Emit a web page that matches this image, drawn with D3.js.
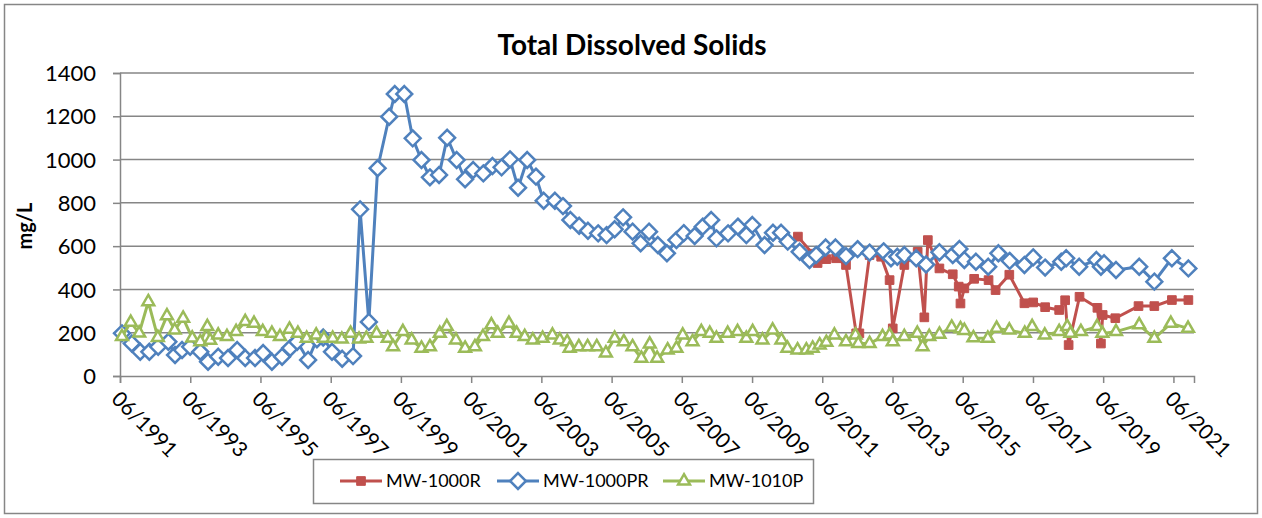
<!DOCTYPE html>
<html>
<head>
<meta charset="utf-8">
<script src="https://cdn.jsdelivr.net/npm/d3@7"></script>
<style>
  body { margin: 0; background: #fff; }
  svg text { font-family: Lato, "Liberation Sans", sans-serif; fill: #000; }
</style>
</head>
<body>
<svg id="chart" width="1262" height="518"></svg>
<script>
// sample times are decimal years, values in mg/L
const mw1000rYears = [2010.72, 2011.14, 2011.28, 2011.53, 2011.81, 2012.09, 2012.38, 2012.47, 2012.76, 2013.09,
  2013.33, 2013.42, 2013.75, 2014.13, 2014.32, 2014.42, 2014.75, 2015.13, 2015.30, 2015.35,
  2015.46, 2015.74, 2016.15, 2016.35, 2016.74, 2017.17, 2017.42, 2017.76, 2018.16, 2018.33,
  2018.43, 2018.74, 2019.25, 2019.35, 2019.40, 2019.76, 2020.42, 2020.87, 2021.37, 2021.84];
const mw1000rTDS = [644, 565, 522, 540, 544, 513, 197, 197, 559, 551,
  443, 220, 513, 574, 271, 628, 497, 470, 413, 335,
  405, 449, 443, 397, 468, 336, 340, 318, 305, 350,
  143, 366, 315, 150, 282, 267, 323, 323, 351, 351];

const mw1000prYears = [1991.47, 1991.75, 1991.99, 1992.25, 1992.50, 1992.79, 1992.98, 1993.18, 1993.41, 1993.70,
  1993.92, 1994.21, 1994.49, 1994.75, 1994.98, 1995.26, 1995.49, 1995.74, 1996.03, 1996.26,
  1996.46, 1996.77, 1997.02, 1997.20, 1997.45, 1997.74, 1998.05, 1998.25, 1998.50, 1998.75,
  1999.08, 1999.24, 1999.51, 1999.75, 2000.00, 2000.24, 2000.50, 2000.73, 2001.00, 2001.24,
  2001.47, 2001.76, 2002.02, 2002.28, 2002.52, 2002.75, 2003.01, 2003.26, 2003.48, 2003.80,
  2004.03, 2004.24, 2004.49, 2004.74, 2005.03, 2005.27, 2005.50, 2005.74, 2006.01, 2006.24,
  2006.48, 2006.73, 2006.99, 2007.26, 2007.47, 2007.78, 2008.01, 2008.25, 2008.40, 2008.73,
  2009.01, 2009.25, 2009.42, 2009.77, 2010.01, 2010.24, 2010.43, 2010.77, 2011.05, 2011.24,
  2011.51, 2011.79, 2012.09, 2012.42, 2012.76, 2013.16, 2013.37, 2013.55, 2013.75, 2014.09,
  2014.37, 2014.75, 2015.13, 2015.32, 2015.46, 2015.79, 2016.14, 2016.43, 2016.75, 2017.17,
  2017.42, 2017.76, 2018.22, 2018.36, 2018.73, 2019.22, 2019.35, 2019.44, 2019.78, 2020.44,
  2020.87, 2021.37, 2021.84];
const mw1000prTDS = [197, 150, 112, 112, 135, 158, 97, 120, 135, 112,
  66, 89, 83, 120, 83, 83, 106, 66, 89, 129,
  158, 74, 170, 178, 112, 80, 92, 770, 250, 960,
  1198, 1303, 1303, 1098, 998, 918, 929, 1101, 998, 909,
  952, 936, 970, 964, 1001, 870, 998, 921, 810, 810,
  785, 721, 694, 671, 659, 651, 678, 733, 667, 613,
  667, 605, 567, 628, 660, 647, 690, 721, 636, 659,
  690, 651, 698, 605, 662, 662, 621, 574, 536, 559,
  594, 594, 554, 586, 570, 576, 544, 551, 559, 544,
  515, 572, 559, 587, 536, 528, 505, 567, 532, 513,
  548, 501, 528, 544, 505, 536, 505, 521, 490, 505,
  436, 544, 497];

const mw1010pYears = [1991.47, 1991.72, 1991.96, 1992.22, 1992.49, 1992.75, 1992.97, 1993.21, 1993.47, 1993.70,
  1993.90, 1993.98, 1994.21, 1994.46, 1994.72, 1994.98, 1995.23, 1995.48, 1995.74, 1995.97,
  1996.24, 1996.48, 1996.73, 1997.00, 1997.22, 1997.47, 1997.73, 1997.98, 1998.22, 1998.43,
  1998.72, 1999.04, 1999.19, 1999.47, 1999.72, 2000.00, 2000.24, 2000.52, 2000.72, 2000.98,
  2001.24, 2001.52, 2001.75, 2001.99, 2002.17, 2002.49, 2002.71, 2002.94, 2003.17, 2003.45,
  2003.73, 2003.94, 2004.15, 2004.22, 2004.48, 2004.73, 2004.99, 2005.25, 2005.50, 2005.76,
  2006.01, 2006.26, 2006.50, 2006.71, 2007.01, 2007.26, 2007.44, 2007.72, 2007.97, 2008.21,
  2008.40, 2008.72, 2009.00, 2009.25, 2009.43, 2009.71, 2010.00, 2010.25, 2010.42, 2010.71,
  2010.96, 2011.14, 2011.34, 2011.53, 2011.76, 2012.09, 2012.36, 2012.44, 2012.76, 2013.13,
  2013.33, 2013.42, 2013.75, 2014.12, 2014.27, 2014.46, 2014.75, 2015.10, 2015.35, 2015.46,
  2015.72, 2016.13, 2016.38, 2016.74, 2017.18, 2017.39, 2017.75, 2018.16, 2018.39, 2018.48,
  2018.78, 2019.24, 2019.39, 2019.78, 2020.44, 2020.87, 2021.34, 2021.83];
const mw1010pTDS = [182, 248, 198, 343, 178, 278, 212, 267, 175, 158,
  228, 165, 189, 182, 205, 251, 243, 205, 197, 182,
  216, 197, 174, 189, 174, 174, 170, 197, 170, 174,
  197, 174, 135, 205, 166, 128, 135, 197, 228, 166,
  128, 135, 182, 236, 197, 243, 197, 182, 166, 174,
  189, 166, 158, 128, 135, 135, 135, 106, 174, 158,
  135, 82, 147, 82, 120, 128, 189, 158, 205, 197,
  174, 197, 205, 174, 205, 166, 212, 166, 128, 120,
  120, 128, 143, 155, 189, 158, 189, 150, 150, 182,
  189, 158, 182, 197, 135, 182, 193, 225, 218, 210,
  176, 174, 220, 212, 197, 228, 189, 205, 228, 197,
  205, 228, 197, 205, 236, 174, 243, 220];

const yTicks = [0, 200, 400, 600, 800, 1000, 1200, 1400];
const xTickYears = [1991, 1993, 1995, 1997, 1999, 2001, 2003, 2005, 2007, 2009, 2011, 2013, 2015, 2017, 2019, 2021];

const seriesNames = ["MW-1000R", "MW-1000PR", "MW-1010P"];
const seriesColors = ["#C0504D", "#4F81BD", "#9BBB59"];

function toDate(t) {
  const y = Math.floor(t);
  const a = new Date(y, 0, 1), b = new Date(y + 1, 0, 1);
  return new Date(+a + (t - y) * (b - a));
}

const svg = d3.select("#chart");
const W = 1262, H = 518;
const margin = { left: 120, right: 68, top: 73, bottom: 142 };

// chart border
svg.append("rect")
  .attr("x", 4.5).attr("y", 4.5)
  .attr("width", W - 9).attr("height", H - 9)
  .attr("fill", "#fff").attr("stroke", "#868686").attr("stroke-width", 1.5);

const x = d3.scaleTime()
  .domain([new Date(1991, 5, 1), new Date(2022, 0, 1)])
  .range([margin.left, W - margin.right]);
const y = d3.scaleLinear()
  .domain([0, 1400])
  .range([H - margin.bottom, margin.top]);

// gridlines
svg.append("g")
  .selectAll("line")
  .data(yTicks.filter(d => d > 0))
  .join("line")
  .attr("x1", margin.left).attr("x2", W - margin.right)
  .attr("y1", d => y(d)).attr("y2", d => y(d))
  .attr("stroke", "#868686").attr("stroke-width", 1.5);

// y axis
const yAxis = svg.append("g")
  .attr("transform", `translate(${margin.left},0)`)
  .call(d3.axisLeft(y).tickValues(yTicks).tickSize(7).tickPadding(17).tickFormat(d3.format("d")));
yAxis.selectAll("line, path").attr("stroke", "#868686").attr("stroke-width", 1.5);
yAxis.selectAll("text").style("font-size", "22px").attr("dy", "0.35em");

// x axis
const xTickDates = xTickYears.map(d => new Date(d, 5, 1));
const xAxis = svg.append("g")
  .attr("transform", `translate(0,${H - margin.bottom})`)
  .call(d3.axisBottom(x).tickValues(xTickDates).tickSize(7).tickFormat(d3.timeFormat("%m/%Y")));
xAxis.select("path").attr("stroke", "#868686").attr("stroke-width", 1.5);
xAxis.selectAll("line").attr("stroke", "#868686").attr("stroke-width", 1.5);
xAxis.selectAll("text")
  .style("font-size", "21px")
  .attr("text-anchor", "start")
  .attr("x", 0).attr("y", 0).attr("dy", "0.35em")
  .attr("transform", "translate(-5,19) rotate(45)");

// title & axis label
svg.append("text")
  .attr("x", 632).attr("y", 55)
  .attr("text-anchor", "middle")
  .style("font-size", "28px").style("font-weight", "bold")
  .text("Total Dissolved Solids");
svg.append("text")
  .attr("transform", "translate(32,226) rotate(-90)")
  .attr("text-anchor", "middle")
  .style("font-size", "20px").style("font-weight", "bold")
  .text("mg/L");

const series = [
  { years: mw1000rYears, values: mw1000rTDS },
  { years: mw1000prYears, values: mw1000prTDS },
  { years: mw1010pYears, values: mw1010pTDS }
];

const symbols = [
  d3.symbol().type(d3.symbolSquare).size(75),
  d3.symbol().type(d3.symbolDiamond2).size(160),
  d3.symbol().type(d3.symbolTriangle2).size(100)
];

const line = d3.line().x(d => x(d.t)).y(d => y(d.v));

series.forEach((s, i) => {
  const pts = s.years.map((t, j) => ({ t: toDate(t), v: s.values[j] }));
  const g = svg.append("g");
  g.append("path")
    .datum(pts)
    .attr("d", line)
    .attr("fill", "none")
    .attr("stroke", seriesColors[i])
    .attr("stroke-width", 3)
    .attr("stroke-linejoin", "round");
  g.selectAll("path.m")
    .data(pts)
    .join("path")
    .attr("class", "m")
    .attr("transform", d => `translate(${x(d.t)},${y(d.v)})`)
    .attr("d", symbols[i])
    .attr("fill", i === 0 ? seriesColors[i] : "#fff")
    .attr("stroke", seriesColors[i])
    .attr("stroke-width", i === 0 ? 1 : 2.5);
});

// legend
const legend = svg.append("g");
legend.append("rect")
  .attr("x", 313.5).attr("y", 459.5).attr("width", 500).attr("height", 44)
  .attr("fill", "#fff").attr("stroke", "#868686").attr("stroke-width", 1.5);
const legendX = [340, 497, 663];
seriesNames.forEach((name, i) => {
  const lg = legend.append("g").attr("transform", `translate(${legendX[i]},481)`);
  lg.append("line").attr("x1", 0).attr("x2", 42)
    .attr("stroke", seriesColors[i]).attr("stroke-width", 3);
  lg.append("path")
    .attr("transform", "translate(21,0)")
    .attr("d", symbols[i])
    .attr("fill", i === 0 ? seriesColors[i] : "#fff")
    .attr("stroke", seriesColors[i])
    .attr("stroke-width", i === 0 ? 1 : 2.5);
  lg.append("text")
    .attr("x", 46).attr("dy", "0.35em")
    .style("font-size", "18px")
    .text(name);
});
</script>
</body>
</html>
